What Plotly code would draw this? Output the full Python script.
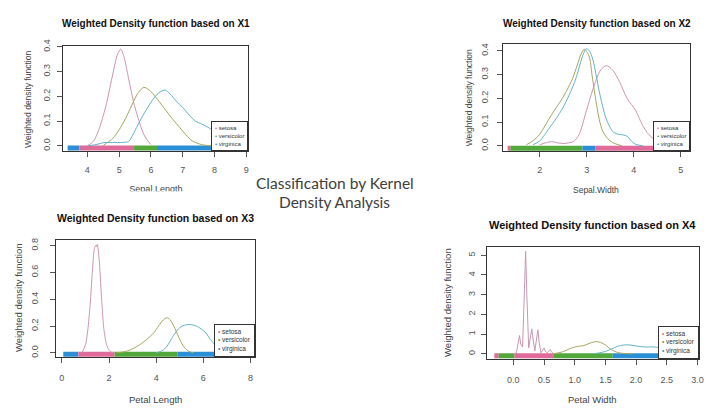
import plotly.graph_objects as go

W, H = 710, 409

species = ["setosa", "versicolor", "virginica"]
line_colors = {"setosa": "#cc96b2", "versicolor": "#a6a65e", "virginica": "#62b4c6"}
rug_colors = {"setosa": "#e06a9a", "versicolor": "#52a83a", "virginica": "#2a8fd6"}

# ---------------- Panel 1 : Sepal Length ----------------
p1_setosa_x = [4.0, 4.2, 4.4, 4.6, 4.8, 4.95, 5.05, 5.15, 5.3, 5.45, 5.6, 5.8, 6.0]
p1_setosa_y = [0.0, 0.02, 0.08, 0.17, 0.29, 0.37, 0.39, 0.36, 0.27, 0.18, 0.11, 0.04, 0.005]
p1_versicolor_x = [4.5, 4.8, 5.0, 5.2, 5.4, 5.6, 5.78, 5.95, 6.15, 6.4, 6.7, 6.9, 7.1, 7.3, 7.6, 7.9]
p1_versicolor_y = [0.002, 0.03, 0.065, 0.11, 0.165, 0.215, 0.236, 0.225, 0.197, 0.155, 0.105, 0.075, 0.045, 0.02, 0.005, 0.0]
p1_virginica_x = [4.0, 4.3, 4.5, 4.8, 5.1, 5.3, 5.45, 5.65, 5.85, 6.05, 6.25, 6.45, 6.6, 6.8, 7.0, 7.2, 7.4, 7.6, 7.8, 8.1, 8.5, 8.9]
p1_virginica_y = [0.0, 0.006, 0.013, 0.014, 0.014, 0.018, 0.05, 0.1, 0.145, 0.185, 0.215, 0.225, 0.21, 0.18, 0.155, 0.125, 0.1, 0.088, 0.075, 0.05, 0.02, 0.003]
p1_rug_edges = [3.38, 3.75, 5.47, 6.19, 8.9]
p1_rug_class = ["virginica", "setosa", "versicolor", "virginica"]
p1_xticks = [4, 5, 6, 7, 8, 9]
p1_yticks = [0.0, 0.1, 0.2, 0.3, 0.4]

# ---------------- Panel 2 : Sepal Width ----------------
p2_setosa_x = [2.0, 2.15, 2.25, 2.38, 2.5, 2.62, 2.72, 2.84, 2.99, 3.16, 3.3, 3.42, 3.55, 3.7, 3.86, 4.04, 4.18, 4.32, 4.5, 4.7]
p2_setosa_y = [0.005, 0.014, 0.018, 0.013, 0.01, 0.013, 0.018, 0.048, 0.145, 0.255, 0.32, 0.338, 0.32, 0.27, 0.2, 0.15, 0.09, 0.048, 0.02, 0.005]
p2_versicolor_x = [1.72, 1.85, 2.0, 2.1, 2.21, 2.33, 2.46, 2.58, 2.7, 2.8, 2.88, 2.95, 3.05, 3.12, 3.2, 3.27, 3.34, 3.45, 3.55, 3.75]
p2_versicolor_y = [0.005, 0.02, 0.048, 0.08, 0.117, 0.155, 0.193, 0.235, 0.283, 0.34, 0.386, 0.407, 0.379, 0.29, 0.186, 0.11, 0.062, 0.03, 0.014, 0.0]
p2_virginica_x = [1.86, 2.0, 2.1, 2.21, 2.35, 2.49, 2.63, 2.77, 2.9, 2.99, 3.06, 3.13, 3.2, 3.27, 3.41, 3.55, 3.65, 3.72, 3.86, 3.95, 4.04, 4.2]
p2_virginica_y = [0.005, 0.02, 0.045, 0.076, 0.115, 0.159, 0.215, 0.283, 0.37, 0.409, 0.4, 0.365, 0.3, 0.227, 0.117, 0.062, 0.05, 0.048, 0.041, 0.02, 0.007, 0.0]
p2_rug_edges = [1.32, 1.38, 2.91, 3.19, 4.5]
p2_rug_class = ["setosa", "versicolor", "virginica", "setosa"]
p2_xticks = [2, 3, 4, 5]
p2_yticks = [0.0, 0.1, 0.2, 0.3, 0.4]

# ---------------- Panel 3 : Petal Length ----------------
p3_setosa_x = [0.85, 1.0, 1.1, 1.2, 1.3, 1.38, 1.43, 1.46, 1.5, 1.58, 1.68, 1.78, 1.9, 2.05, 2.2]
p3_setosa_y = [0.0, 0.06, 0.17, 0.36, 0.62, 0.78, 0.8, 0.79, 0.81, 0.7, 0.42, 0.18, 0.06, 0.01, 0.0]
p3_versicolor_x = [2.3, 2.7, 3.0, 3.3, 3.6, 3.9, 4.1, 4.3, 4.45, 4.6, 4.8, 5.0, 5.2, 5.4, 5.6]
p3_versicolor_y = [0.0, 0.01, 0.03, 0.06, 0.1, 0.15, 0.2, 0.245, 0.262, 0.245, 0.18, 0.1, 0.04, 0.01, 0.0]
p3_virginica_x = [4.0, 4.3, 4.5, 4.7, 4.9, 5.1, 5.3, 5.5, 5.7, 5.9, 6.1, 6.3, 6.5, 6.8, 7.1]
p3_virginica_y = [0.0, 0.02, 0.06, 0.12, 0.17, 0.2, 0.21, 0.21, 0.2, 0.18, 0.15, 0.1, 0.06, 0.02, 0.005]
p3_rug_edges = [0.06, 0.7, 2.24, 4.9, 6.9]
p3_rug_class = ["virginica", "setosa", "versicolor", "virginica"]
p3_xticks = [0, 2, 4, 6, 8]
p3_yticks = [0.0, 0.2, 0.4, 0.6, 0.8]

# ---------------- Panel 4 : Petal Width ----------------
p4_setosa_x = [0.0, 0.05, 0.08, 0.1, 0.12, 0.15, 0.18, 0.2, 0.22, 0.25, 0.28, 0.3, 0.32, 0.35,
               0.38, 0.4, 0.42, 0.45, 0.48, 0.5, 0.52, 0.55, 0.58, 0.6, 0.62, 0.66]
p4_setosa_y = [0.0, 0.05, 0.6, 0.93, 0.5, 0.35, 3.2, 5.2, 3.0, 0.3, 0.9, 1.27, 0.8, 0.15,
               0.8, 1.22, 0.6, 0.05, 0.2, 0.3, 0.15, 0.05, 0.15, 0.22, 0.1, 0.0]
p4_versicolor_x = [0.65, 0.8, 0.95, 1.05, 1.15, 1.25, 1.35, 1.42, 1.5, 1.6, 1.7, 1.8, 1.95]
p4_versicolor_y = [0.0, 0.1, 0.3, 0.38, 0.42, 0.55, 0.62, 0.58, 0.45, 0.2, 0.07, 0.02, 0.0]
p4_virginica_x = [1.3, 1.4, 1.5, 1.6, 1.7, 1.8, 1.9, 2.0, 2.1, 2.2, 2.3, 2.45, 2.6, 2.8]
p4_virginica_y = [0.0, 0.05, 0.12, 0.25, 0.38, 0.45, 0.45, 0.4, 0.36, 0.35, 0.35, 0.25, 0.1, 0.0]
p4_rug_edges = [-0.31, -0.24, 0.02, 0.65, 1.62, 2.6]
p4_rug_class = ["setosa", "versicolor", "setosa", "versicolor", "virginica"]
p4_xticks = [0.0, 0.5, 1.0, 1.5, 2.0, 2.5, 3.0]
p4_yticks = [0, 1, 2, 3, 4, 5]

panels = [
    dict(curves={"setosa": (p1_setosa_x, p1_setosa_y), "versicolor": (p1_versicolor_x, p1_versicolor_y),
                 "virginica": (p1_virginica_x, p1_virginica_y)},
         rug=(p1_rug_edges, p1_rug_class), rug_y=-0.008,
         box=(63, 250, 40, 147), xr=[3.22, 9.06], yr=[-0.021, 0.402],
         xt=p1_xticks, yt=p1_yticks, xf="d", yf=".1f",
         title="Weighted Density function based on X1", tpos=(157, 17), tsize=10,
         ypos=(28, 94), ysize=8.5, xlab=None, xpos=None, xsize=8.5,
         xso=5, yso=3, lsize=6, lpad=3, spline=True),
    dict(curves={"setosa": (p2_setosa_x, p2_setosa_y), "versicolor": (p2_versicolor_x, p2_versicolor_y),
                 "virginica": (p2_virginica_x, p2_virginica_y)},
         rug=(p2_rug_edges, p2_rug_class), rug_y=-0.01,
         box=(507, 695, 38, 147), xr=[1.23, 5.2], yr=[-0.022, 0.428],
         xt=p2_xticks, yt=p2_yticks, xf="d", yf=".1f",
         title="Weighted Density function based on X2", tpos=(601, 17), tsize=10,
         ypos=(472, 92.5), ysize=8.5, xlab="Sepal.Width", xpos=(600, 187), xsize=8.5,
         xso=5, yso=6, lsize=6, lpad=3, spline=True),
    dict(curves={"setosa": (p3_setosa_x, p3_setosa_y), "versicolor": (p3_versicolor_x, p3_versicolor_y),
                 "virginica": (p3_virginica_x, p3_virginica_y)},
         rug=(p3_rug_edges, p3_rug_class), rug_y=-0.011,
         box=(56, 257, 238, 357), xr=[-0.265, 8.2], yr=[-0.031, 0.839],
         xt=p3_xticks, yt=p3_yticks, xf="d", yf=".1f",
         title="Weighted Density function based on X3", tpos=(157, 215), tsize=10.5,
         ypos=(18, 296), ysize=9.5, xlab="Petal Length", xpos=(157, 400), xsize=9.5,
         xso=7, yso=8, lsize=6.5, lpad=3, spline=True),
    dict(curves={"setosa": (p4_setosa_x, p4_setosa_y), "versicolor": (p4_versicolor_x, p4_versicolor_y),
                 "virginica": (p4_virginica_x, p4_virginica_y)},
         rug=(p4_rug_edges, p4_rug_class), rug_y=-0.1,
         box=(490, 704, 245, 359), xr=[-0.437, 3.026], yr=[-0.26, 5.41],
         xt=p4_xticks, yt=p4_yticks, xf=".1f", yf="d",
         title="Weighted Density function based on X4", tpos=(597, 222), tsize=11,
         ypos=(450, 301), ysize=9.5, xlab="Petal Width", xpos=(597, 400), xsize=9.5,
         xso=7, yso=2, lsize=6.5, lpad=3, spline=False),
]

FONT = "Liberation Sans, Arial, sans-serif"
fig = go.Figure()
layout = dict(width=W, height=H, margin=dict(l=0, r=0, t=0, b=0),
              paper_bgcolor="white", plot_bgcolor="white", showlegend=False,
              font=dict(family=FONT))
annotations = []

def px(x):
    return x / W

def py(y):
    return 1 - y / H

for i, p in enumerate(panels, start=1):
    sfx = "" if i == 1 else str(i)
    xa, ya = "x" + sfx, "y" + sfx
    l, r, t, b = p["box"]
    common = dict(showgrid=False, zeroline=False, showline=True, mirror=True,
                  linecolor="#333", linewidth=1, ticks="outside", ticklen=5,
                  tickcolor="#555", tickfont=dict(size=9, color="#555", family=FONT))
    layout["xaxis" + sfx] = dict(domain=[px(l), px(r)], anchor=ya, range=p["xr"],
                                 tickvals=p["xt"], tickformat=p["xf"],
                                 ticklabelstandoff=p["xso"], **common)
    layout["yaxis" + sfx] = dict(domain=[py(b), py(t)], anchor=xa, range=p["yr"],
                                 tickvals=p["yt"], tickformat=p["yf"], tickangle=-90,
                                 ticklabelstandoff=p["yso"], **common)
    # rug band
    edges, cls = p["rug"]
    for k, c in enumerate(cls):
        fig.add_trace(go.Scatter(x=[edges[k], edges[k + 1]], y=[p["rug_y"], p["rug_y"]],
                                 mode="lines", line=dict(color=rug_colors[c], width=5),
                                 xaxis=xa, yaxis=ya, hoverinfo="skip"))
    # density curves
    for s in species:
        cx, cy = p["curves"][s]
        shape = "spline" if (p["spline"] or s != "setosa") else "linear"
        fig.add_trace(go.Scatter(x=cx, y=cy, mode="lines",
                                 line=dict(color=line_colors[s], width=1, shape=shape,
                                           smoothing=0.8 if shape == "spline" else None),
                                 xaxis=xa, yaxis=ya, hoverinfo="skip"))
    # title
    annotations.append(dict(text="<b>" + p["title"] + "</b>", x=px(p["tpos"][0]), y=py(p["tpos"][1]),
                            xref="paper", yref="paper", xanchor="center", yanchor="middle",
                            showarrow=False, font=dict(size=p["tsize"], color="#111", family=FONT)))
    # y axis title
    annotations.append(dict(text="Weighted density function", x=px(p["ypos"][0]), y=py(p["ypos"][1]),
                            xref="paper", yref="paper", xanchor="center", yanchor="middle",
                            textangle=-90, showarrow=False,
                            font=dict(size=p["ysize"], color="#444", family=FONT)))
    if p["xlab"]:
        annotations.append(dict(text=p["xlab"], x=px(p["xpos"][0]), y=py(p["xpos"][1]),
                                xref="paper", yref="paper", xanchor="center", yanchor="middle",
                                showarrow=False, font=dict(size=p["xsize"], color="#444", family=FONT)))
    # legend box
    leg = "<br>".join("<span style='color:%s'>\u2022</span> %s" % (rug_colors[s], s) for s in species)
    annotations.append(dict(text=leg, x=1, y=0, xref=xa + " domain", yref=ya + " domain",
                            xanchor="right", yanchor="bottom", align="left", showarrow=False,
                            bgcolor="white", bordercolor="#333", borderwidth=1, borderpad=p["lpad"],
                            font=dict(size=p["lsize"], color="#333", family=FONT)))

# clipped x-axis label of panel 1 (cut by the image edge in the original)
layout["xaxis5"] = dict(domain=[px(60), px(260)], anchor="y5", range=[60, 260], visible=False)
layout["yaxis5"] = dict(domain=[py(188), py(170)], anchor="x5", range=[188, 170], visible=False)
fig.add_trace(go.Scatter(x=[157], y=[186], mode="text", text=["Sepal.Length"],
                         textfont=dict(size=9, color="#444", family=FONT),
                         cliponaxis=True, xaxis="x5", yaxis="y5", hoverinfo="skip"))

# central caption
annotations.append(dict(text="Classification by Kernel", x=px(337), y=py(180), xref="paper", yref="paper",
                        xanchor="center", yanchor="middle", showarrow=False,
                        font=dict(size=15.5, color="#404040", family="Lato, sans-serif")))
annotations.append(dict(text="Density Analysis", x=px(337), y=py(199), xref="paper", yref="paper",
                        xanchor="center", yanchor="middle", showarrow=False,
                        font=dict(size=15.5, color="#404040", family="Lato, sans-serif")))

layout["annotations"] = annotations
fig.update_layout(**layout)
fig.write_html("out.html")
